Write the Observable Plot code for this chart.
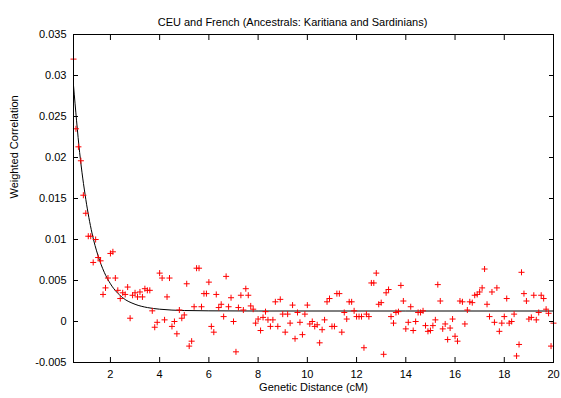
<!DOCTYPE html>
<html><head><meta charset="utf-8">
<script src="https://cdn.jsdelivr.net/npm/d3@7"></script>
<script src="https://cdn.jsdelivr.net/npm/@observablehq/plot@0.6"></script>
<style>
body{margin:0;background:#fff}
svg{font-family:"Liberation Sans",Arial,sans-serif}
</style>
</head><body><div id="chart"></div>
<script>
const title = "CEU and French (Ancestrals: Karitiana and Sardinians)";
const xLabel = "Genetic Distance (cM)";
const yLabel = "Weighted Correlation";
const xTicks = [2, 4, 6, 8, 10, 12, 14, 16, 18, 20];
const yTicks = [-0.005, 0, 0.005, 0.01, 0.015, 0.02, 0.025, 0.03, 0.035];
const yTickLabels = ["-0.005", "0", "0.005", "0.01", "0.015", "0.02", "0.025", "0.03", "0.035"];

const distance = [
  0.5,0.6,0.7,0.8,0.9,1.0,1.1,1.2,1.3,1.4,1.5,1.6,1.7,1.8,1.9,
  2.0,2.1,2.2,2.3,2.4,2.5,2.6,2.7,2.8,2.9,3.0,3.1,3.2,3.3,3.4,3.5,3.6,
  3.7,3.8,3.9,4.0,4.1,4.2,4.3,4.4,4.5,4.6,4.7,4.8,4.9,5.0,5.1,5.2,5.3,5.4,
  5.5,5.6,5.7,5.8,5.9,6.0,6.1,6.2,6.3,6.4,6.5,6.6,6.7,6.8,
  6.9,7.0,7.1,7.2,7.3,7.4,7.5,7.6,7.7,7.8,7.9,8.0,8.1,8.2,8.3,8.4,8.5,8.6,
  8.7,8.8,8.9,9.0,9.1,9.2,9.3,9.4,9.5,9.6,9.7,9.8,9.9,10.0,
  10.1,10.2,10.3,10.4,10.5,10.6,10.7,10.8,10.9,11.0,11.1,11.2,11.3,11.4,11.5,
  11.6,11.7,11.8,11.9,12.0,12.1,12.2,12.3,12.4,12.5,12.6,12.7,12.8,12.9,13.0,13.1,13.2,13.3,
  13.4,13.5,13.6,13.7,13.8,13.9,14.0,14.1,14.2,14.3,14.4,14.5,14.6,14.7,14.8,14.9,
  15.0,15.1,15.2,15.3,15.4,15.5,15.6,15.7,15.8,15.9,16.0,16.1,16.2,16.3,16.4,16.5,
  16.6,16.7,16.8,16.9,17.0,17.1,17.2,17.3,17.4,17.5,17.6,17.7,17.8,17.9,18.0,18.1,18.2,
  18.3,18.4,18.5,18.6,18.7,18.8,18.9,19.0,19.1,19.2,19.3,19.4,19.5,19.6,19.7,19.8,19.9,20.0
];
const correlation = [
  0.0320,0.0235,0.0213,0.0196,0.0154,0.0132,0.0104,0.0104,0.0072,0.0100,0.0078,0.0074,0.0033,0.0041,0.0053,
  0.0083,0.0085,0.0053,0.0038,0.0028,0.0035,0.0033,0.0042,0.0004,0.0032,0.0035,0.0030,0.0036,0.0030,0.0040,0.0038,0.0038,
  0.0013,-0.0007,-0.0001,0.0059,0.0053,0.0002,0.0030,0.0053,-0.0006,0.0000,-0.0015,0.0014,0.0004,0.0008,0.0046,-0.0030,-0.0024,0.0018,
  0.0065,0.0065,0.0018,0.0034,0.0034,0.0048,-0.0006,-0.0013,0.0033,0.0017,0.0021,0.0006,0.0055,0.0018,
  0.0029,0.0000,-0.0037,0.0017,0.0032,0.0014,0.0040,0.0032,0.0019,0.0015,-0.0002,0.0003,-0.0011,0.0005,0.0012,0.0002,-0.0006,0.0002,
  0.0024,-0.0006,0.0027,0.0009,-0.0013,0.0009,-0.0002,0.0020,-0.0021,0.0011,-0.0001,-0.0016,0.0009,0.0020,
  -0.0003,0.0000,-0.0006,-0.0004,-0.0026,-0.0010,0.0002,0.0024,0.0028,-0.0006,-0.0006,0.0034,0.0034,-0.0013,0.0011,
  0.0003,0.0024,0.0024,0.0013,0.0006,0.0006,0.0006,-0.0032,0.0009,0.0006,0.0047,0.0047,0.0059,0.0021,0.0023,-0.0040,0.0035,0.0039,
  0.0006,-0.0002,0.0011,0.0012,0.0044,0.0025,-0.0009,-0.0001,0.0018,-0.0011,0.0000,0.0011,0.0011,0.0013,-0.0005,-0.0012,
  -0.0011,-0.0005,0.0002,0.0045,0.0025,-0.0009,-0.0003,-0.0022,-0.0008,0.0003,-0.0018,-0.0024,0.0025,0.0024,-0.0003,0.0014,
  0.0024,0.0023,0.0032,0.0033,0.0036,0.0041,0.0064,0.0021,0.0006,0.0036,-0.0001,0.0041,-0.0012,-0.0002,0.0006,0.0028,-0.0002,
  0.0000,0.0009,-0.0042,-0.0028,0.0060,0.0034,0.0025,0.0003,0.0005,0.0032,0.0002,0.0011,0.0032,0.0028,0.0015,0.0010,-0.0030,-0.0002
];

// fitted curve
const fitDistance = [0.5, 0.75, 1, 1.25, 1.5, 1.75, 2, 2.5, 3, 3.5, 4, 5, 6, 8, 20];
const fitCorrelation = [0.0288, 0.0206, 0.0149, 0.0108, 0.0080, 0.0060, 0.0046, 0.0029, 0.0021, 0.0017, 0.0015, 0.00134, 0.0013, 0.00128, 0.00128];

const points = distance.map((d, i) => ({d, c: correlation[i]}));
const fit = fitDistance.map((d, i) => ({d, c: fitCorrelation[i]}));
const yFmt = v => yTickLabels[yTicks.findIndex(t => Math.abs(t - v) < 1e-9)];

const chart = Plot.plot({
  width: 561,
  height: 398,
  marginLeft: 73,
  marginRight: 8,
  marginTop: 34,
  marginBottom: 36,
  style: {fontFamily: '"Liberation Sans", Arial, sans-serif', fontSize: "11px", color: "black", background: "white"},
  x: {domain: [0.5, 20]},
  y: {domain: [-0.005, 0.035]},
  marks: [
    Plot.axisX({anchor: "bottom", ticks: xTicks, tickSize: -5, tickPadding: 13, label: null, fontSize: 11}),
    Plot.axisX({anchor: "top", ticks: xTicks, tickSize: -5, tickFormat: () => "", label: null}),
    Plot.axisY({anchor: "left", ticks: yTicks, tickSize: -5, tickPadding: 12, tickFormat: yFmt, label: null, fontSize: 11}),
    Plot.axisY({anchor: "right", ticks: yTicks, tickSize: -5, tickFormat: () => "", label: null}),
    Plot.line(fit, {x: "d", y: "c", curve: "monotone-x", stroke: "black", strokeWidth: 1, clip: true}),
    Plot.dot(points, {x: "d", y: "c", symbol: "plus", r: 2.1, stroke: "#ff0000", strokeWidth: 1}),
    Plot.frame({stroke: "black", strokeWidth: 1}),
    Plot.text([title], {frameAnchor: "top", dy: -16, dx: -21, fontSize: 11, fill: "black"}),
    Plot.text([xLabel], {frameAnchor: "bottom", dy: 28, fontSize: 11, fill: "black"}),
    Plot.text([yLabel], {frameAnchor: "left", dx: -59, rotate: -90, fontSize: 11, fill: "black"})
  ]
});
document.getElementById("chart").appendChild(chart);
</script>
</body></html>
